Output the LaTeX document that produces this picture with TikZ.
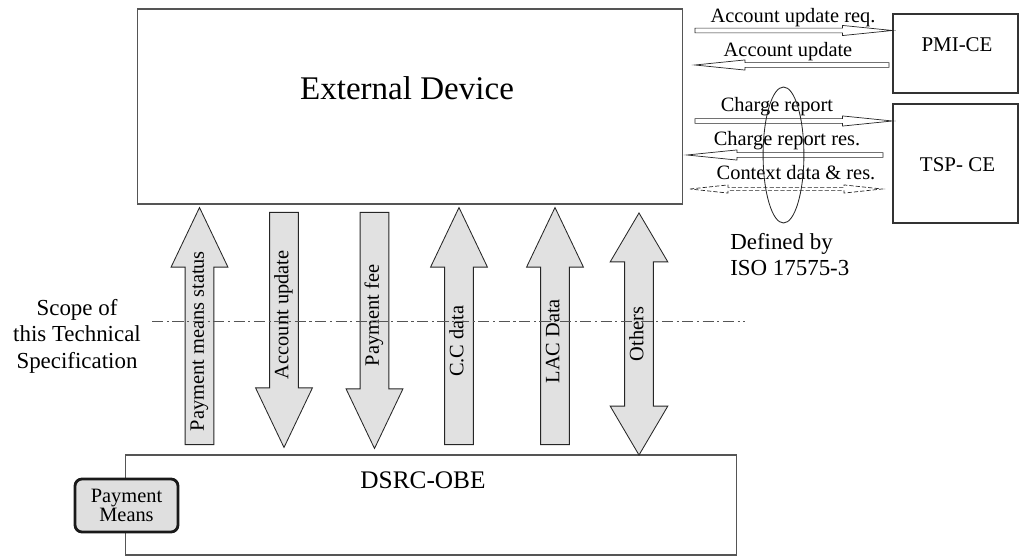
\documentclass[tikz,border=0pt]{standalone}
\usepackage{fontspec}
\setmainfont{Liberation Serif}
\usetikzlibrary{calc,shapes.arrows}
\definecolor{arrowgray}{RGB}{225,225,225}
\definecolor{framegray}{RGB}{85,85,85}

\newcommand{\labfont}{\fontsize{14.5}{17}\selectfont}
\newcommand{\notefont}{\fontsize{16.3}{18.8}\selectfont}

% hollow flow arrow: [style] tail, tip
\newcommand{\flowarrow}[3][]{%
  \coordinate (fb) at ($(#3)!35.5pt!(#2)$);
  \draw[flow,#1] ($(#2)!1.7pt!90:(#3)$) -- ($(fb)!1.7pt!-90:(#2)$) -- ($(fb)!3.6pt!-90:(#2)$)
    -- (#3) -- ($(fb)!3.6pt!90:(#2)$) -- ($(fb)!1.7pt!90:(#2)$) -- ($(#2)!1.7pt!-90:(#3)$) -- cycle;
}
% same with a head at both ends
\newcommand{\bothflow}[3][]{%
  \coordinate (fa) at ($(#2)!27pt!(#3)$);
  \coordinate (fb) at ($(#3)!27pt!(#2)$);
  \draw[flow,#1] (#2) -- ($(fa)!2.9pt!90:(#3)$) -- ($(fa)!1.15pt!90:(#3)$) -- ($(fb)!1.15pt!-90:(#2)$)
    -- ($(fb)!2.9pt!-90:(#2)$) -- (#3) -- ($(fb)!2.9pt!90:(#2)$) -- ($(fb)!1.15pt!90:(#2)$)
    -- ($(fa)!1.15pt!-90:(#3)$) -- ($(fa)!2.9pt!-90:(#3)$) -- cycle;
}

\begin{document}
\begin{tikzpicture}[x=0.025cm,y=-0.025cm,
  box/.style={draw=framegray, line width=0.8pt, inner sep=0pt},
  txt/.style={inner sep=0pt, font=\labfont},
  flow/.style={draw=black!85, line width=0.5pt, fill=white, line join=miter},
  blockup/.style={single arrow, draw=black!85, fill=arrowgray, line width=0.6pt, rotate=90,
    minimum width=1.4cm, single arrow head extend=0.35cm, single arrow tip angle=51,
    inner xsep=2pt, inner ysep=0pt, text height=13pt, text depth=6.9pt, font=\labfont},
  blockdown/.style={blockup, shape border rotate=180},
  blockboth/.style={double arrow, draw=black!85, fill=arrowgray, line width=0.6pt, rotate=90,
    minimum width=1.425cm, double arrow head extend=0.36cm, double arrow tip angle=61,
    inner xsep=2pt, inner ysep=0pt, text height=13pt, text depth=6.9pt, font=\labfont},
  scopeline/.style={draw=framegray, line width=0.6pt, dash pattern=on 8pt off 2.5pt on 1.5pt off 2.5pt}
]
\useasboundingbox (0,0) rectangle (1020,557);

% boxes
\node[box, minimum width=13.625cm, minimum height=4.875cm] (ext) at (410,106.5) {};
\node[txt, anchor=base, font=\fontsize{23.5}{26}\selectfont] (ext-t) at (407,100) {External Device};
\node[box, draw=black!80, minimum width=3.125cm, minimum height=1.975cm] (pmi) at (955.5,53.5) {};
\node[txt, anchor=base, font=\fontsize{14.9}{17}\selectfont] (pmi-t) at (957,52) {PMI-CE};
\node[box, draw=black!80, minimum width=3.125cm, minimum height=2.975cm] (tsp) at (955.5,163.5) {};
\node[txt, anchor=base, font=\fontsize{14.9}{17}\selectfont] (tsp-t) at (957.5,172) {TSP- CE};
\node[box, minimum width=15.25cm, minimum height=2.5cm] (dsrc) at (431,505) {};
\node[txt, anchor=base, font=\fontsize{18}{20}\selectfont] (dsrc-t) at (423,488) {DSRC-OBE};
\node[draw=black!90, line width=2pt, rounded corners=5pt, fill=gray!25, minimum width=2.575cm,
  minimum height=1.325cm, align=center, inner sep=0pt, font=\fontsize{14.5}{13.5}\selectfont] (paym) at (126.5,505.5) {Payment\\Means};

% flows to the central systems
\coordinate (aureq-s) at (695,30.5);
\coordinate (au-e) at (695,65);
\coordinate (au-s) at (889,65);
\coordinate (cr-s) at (695,121);
\coordinate (crr-s) at (883,155);
\coordinate (crr-e) at (687,155);
\coordinate (ctx-w) at (690,189);
\coordinate (ctx-e) at (882,189);
\flowarrow{aureq-s}{pmi.west |- aureq-s}
\flowarrow{au-s}{au-e}
\flowarrow{cr-s}{tsp.west |- cr-s}
\flowarrow{crr-s}{crr-e}
\bothflow[dash pattern=on 3pt off 1.5pt]{ctx-w}{ctx-e}
\node[txt, anchor=base] (aureq-l) at (793,23) {Account update req.};
\node[txt, anchor=base] (au-l) at (788,57) {Account update};
\node[txt, anchor=base] (cr-l) at (777,112) {Charge report};
\node[txt, anchor=base] (crr-l) at (787,145.5) {Charge report res.};
\node[txt, anchor=base] (ctx-l) at (796,180) {Context data \& res.};
\draw[black!85, line width=0.6pt] (783.5,155) ellipse [x radius=0.51cm, y radius=1.7cm];
\node[txt, anchor=base west, align=left, font=\fontsize{16.3}{18.3}\selectfont] (iso) at (730,275.5) {Defined by\\ISO 17575-3};

% data between the device and the OBE
\node[blockup, minimum height=5.925cm, anchor=tail] (pms) at (199.5,445) {Payment means status};
\node[blockdown, minimum height=5.875cm, anchor=tail] (accup) at (284,212) {Account update};
\node[blockdown, minimum height=5.9cm, anchor=tail] (payfee) at (374.5,212) {Payment fee};
\node[blockup, minimum height=5.925cm, anchor=tail] (ccdata) at (459,445) {C.C data};
\node[blockup, minimum height=5.925cm, anchor=tail] (lacdata) at (555,445) {LAC Data};
\node[blockboth, minimum height=6.05cm] (others) at (639,334) {Others};

% scope
\coordinate (scope-w) at (152,321);
\coordinate (scope-e) at (745,321);
\draw[scopeline] (scope-w) -- (scope-e);
\node[txt, anchor=base, align=center, font=\notefont] (scope) at (77,368) {Scope of\\this Technical\\Specification};
\end{tikzpicture}
\end{document}
